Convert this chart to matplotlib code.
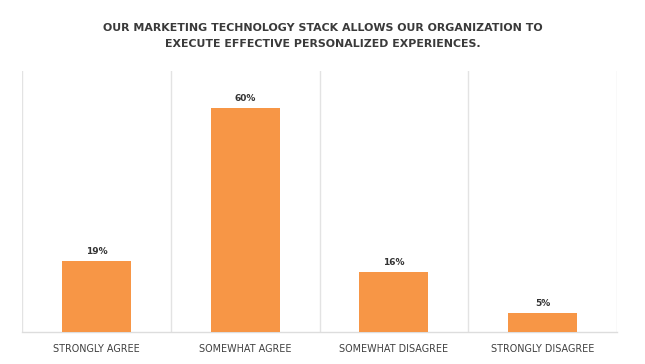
import matplotlib
matplotlib.use("Agg")
import matplotlib.pyplot as plt

categories = ["STRONGLY AGREE", "SOMEWHAT AGREE", "SOMEWHAT DISAGREE", "STRONGLY DISAGREE"]
values = [19, 60, 16, 5]
value_labels = ["19%", "60%", "16%", "5%"]
title = "OUR MARKETING TECHNOLOGY STACK ALLOWS OUR ORGANIZATION TO\nEXECUTE EFFECTIVE PERSONALIZED EXPERIENCES."

W, H = 645, 364
fig = plt.figure(figsize=(W / 100, H / 100), dpi=100)
ax = fig.add_axes([22 / W, 1 - 332 / H, (617 - 22) / W, (332 - 71) / H])

x = list(range(len(categories)))
ax.bar(x, values, width=0.465, color="#F79646", zorder=3)
ax.set_xlim(-0.5, len(categories) - 0.5)
ax.set_ylim(0, 70)

for xi, v, lab in zip(x, values, value_labels):
    ax.annotate(lab, (xi, v), xytext=(0, 3.5), textcoords="offset points",
                ha="center", va="bottom", fontsize=6.5, fontweight="bold",
                color="#333333", family="DejaVu Sans")

for b in [i - 0.5 for i in range(len(categories) + 1)]:
    ax.axvline(b, color="#E3E3E3", lw=1.0, zorder=1)

for s in ["top", "left", "right"]:
    ax.spines[s].set_visible(False)
ax.spines["bottom"].set_color("#DDDDDD")
ax.spines["bottom"].set_linewidth(1.0)
ax.set_yticks([])
ax.set_xticks(x)
ax.set_xticklabels(categories, fontsize=6.9, color="#404040", family="DejaVu Sans")
ax.tick_params(axis="x", length=0, pad=9)

fig.text(0.5, 1 - 36 / H, title, ha="center", va="center", fontsize=7.9,
         fontweight="bold", color="#3a3a3a", family="DejaVu Sans",
         linespacing=1.7)

fig.savefig("out.png", dpi=100)
